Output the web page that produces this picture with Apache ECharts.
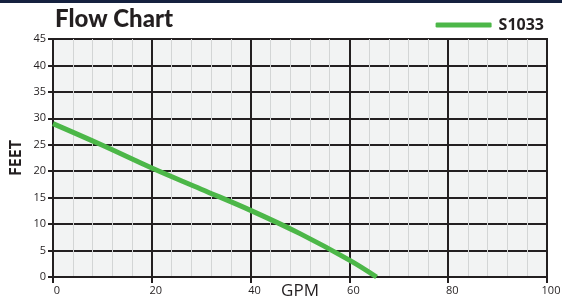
<!DOCTYPE html>
<html>
<head>
<meta charset="utf-8">
<script src="https://cdn.jsdelivr.net/npm/echarts@6/dist/echarts.min.js"></script>
<style>html,body{margin:0;padding:0;background:#fff;}#c{width:562px;height:301px;}</style>
</head>
<body>
<div id="c"></div>
<script>
const seriesName = 'S1033';
const gpm  = [0, 10, 20, 30, 40, 50, 60, 65.5];
const feet = [29, 24.9, 20.6, 16.6, 12.6, 8.2, 3.2, 0];
const xTicks = [0, 20, 40, 60, 80, 100];
const yTicks = [0, 5, 10, 15, 20, 25, 30, 35, 40, 45];

const chart = echarts.init(document.getElementById('c'));
const font = '"Open Sans", "Noto Sans", sans-serif';
chart.setOption({
  backgroundColor: '#fff',
  animation: false,
  title: {
    text: 'Flow Chart', left: 50, top: 2,
    textStyle: { fontFamily: 'Lato, "Open Sans", sans-serif', fontWeight: 900, fontSize: 24, color: '#231f20' }
  },
  legend: {
    right: 13, top: 12,
    itemWidth: 56, itemHeight: 5, itemGap: 10,
    icon: 'roundRect',
    data: [{ name: seriesName }],
    textStyle: { fontFamily: font, fontWeight: 'bold', fontSize: 16, color: '#231f20', padding: [0, 0, 0, 2] }
  },
  graphic: [
    { type: 'rect', left: 0, top: 0, shape: { width: 562, height: 3 }, style: { fill: '#15213f' } }
  ],
  grid: {
    left: 53, right: 15, top: 39, bottom: 24,
    outerBoundsMode: 'none', containLabel: false,
    show: true, backgroundColor: '#f2f3f3', borderColor: '#231f20', borderWidth: 2
  },
  xAxis: {
    type: 'value', min: xTicks[0], max: xTicks[xTicks.length - 1], interval: 20,
    name: 'GPM', nameLocation: 'middle', nameGap: 6, nameMoveOverlap: false,
    nameTextStyle: { fontFamily: font, fontSize: 17, color: '#231f20' },
    axisLine: { show: true, lineStyle: { color: '#231f20', width: 2 } },
    axisTick: { show: true, length: 6, lineStyle: { color: '#231f20', width: 2 } },
    axisLabel: { fontFamily: font, fontSize: 11, color: '#231f20', margin: 8, padding: [0, 0, 0, 8] },
    splitLine: { show: true, lineStyle: { color: '#231f20', width: 2 } },
    minorTick: { show: true, splitNumber: 5, length: 0 },
    minorSplitLine: { show: true, lineStyle: { color: '#d3d5d5', width: 1 } }
  },
  yAxis: {
    type: 'value', min: yTicks[0], max: yTicks[yTicks.length - 1], interval: 5,
    name: 'FEET', nameLocation: 'middle', nameGap: 29, nameMoveOverlap: false,
    nameTextStyle: { fontFamily: font, fontWeight: 'bold', fontSize: 16, color: '#231f20' },
    axisLine: { show: true, lineStyle: { color: '#231f20', width: 2 } },
    axisTick: { show: true, length: 5, lineStyle: { color: '#231f20', width: 2 } },
    axisLabel: { fontFamily: font, fontSize: 11, color: '#231f20', margin: 7 },
    splitLine: { show: true, lineStyle: { color: '#231f20', width: 2 } }
  },
  series: [{
    name: seriesName, type: 'line', smooth: 0.4, symbol: 'none',
    data: gpm.map((g, i) => [g, feet[i]]),
    lineStyle: { color: '#4cb748', width: 5 },
    itemStyle: { color: '#4cb748' }
  }]
});
</script>
</body>
</html>
